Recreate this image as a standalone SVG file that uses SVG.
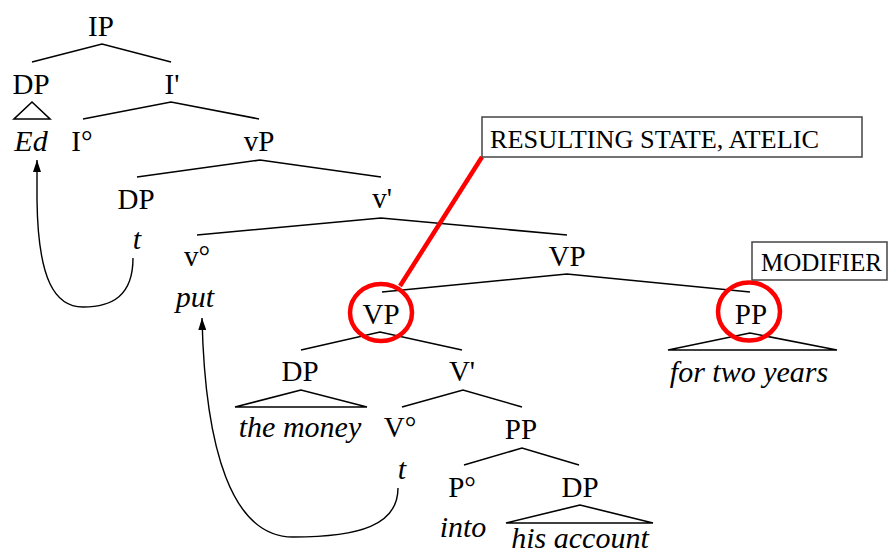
<svg xmlns="http://www.w3.org/2000/svg" width="890" height="554" viewBox="0 0 890 554">
<style>
  text { font-family: "Liberation Serif", "Times New Roman", serif; font-size: 29px; fill: #000; text-anchor: middle; }
  .it { font-style: italic; font-size: 30px; }
  .lbl { font-size: 25px; text-anchor: start; }
  .br { stroke: #000; stroke-width: 1.6; fill: none; }
  .tri { stroke: #000; stroke-width: 1.6; fill: none; stroke-linejoin: miter; }
  .mv { stroke: #000; stroke-width: 1.4; fill: none; }
  .red { stroke: #ff0000; stroke-width: 4.5; fill: none; }
  .box { fill: #fff; stroke: #444; stroke-width: 1.5; }
</style>
<defs>
  <marker id="ah" viewBox="0 0 12 8" refX="12" refY="4" markerWidth="12" markerHeight="8" orient="auto" markerUnits="userSpaceOnUse">
    <path d="M0,0 L12,4 L0,8 Z" fill="#000"/>
  </marker>
</defs>
<rect width="890" height="554" fill="#fff"/>
<g id="connectors">
  <path class="br" d="M32,62 L102,44 L171,62"/>
  <path class="tri" d="M32,102 L14,119 L50,119 Z"/>
  <path class="br" d="M83,119 L171,102 L259,119"/>
  <path class="br" d="M137,177 L260,160 L381,177"/>
  <path class="br" d="M197,235 L381,218 L567,235"/>
  <path class="br" d="M382,292 L567,274 L750,292"/>
  <path class="br" d="M301,350 L380,332 L462,350"/>
  <path class="tri" d="M750,333 L668,350 L837,350 Z"/>
  <path class="tri" d="M301,390 L235,407 L367,407 Z"/>
  <path class="br" d="M402,407 L463,390 L522,407"/>
  <path class="br" d="M464,465 L522,448 L579,465"/>
  <path class="tri" d="M580,505 L506,523 L653,523 Z"/>
  <path class="mv" d="M133,258 C133,296 112,307 83,307 C55,307 38,280 37,200 L37,160" marker-end="url(#ah)"/>
  <path class="mv" d="M398,488 C398,525 360,537 293,537 C232,537 205,450 202,318" marker-end="url(#ah)"/>
  <line class="red" x1="482" y1="157" x2="400" y2="286"/>
</g>
<g id="n-IP"><text x="101" y="36">IP</text></g>
<g id="n-DP1"><text x="31" y="94">DP</text></g>
<g id="n-Ibar"><text x="172" y="94">I'</text></g>
<g id="n-Ed"><text class="it" x="31" y="151">Ed</text></g>
<g id="n-I0"><text x="82" y="151">I°</text></g>
<g id="n-vP"><text x="259" y="151">vP</text></g>
<g id="n-DP2"><text x="136" y="209">DP</text></g>
<g id="n-vbar"><text x="382" y="208">v'</text></g>
<g id="n-t1"><text class="it" x="137" y="249">t</text></g>
<g id="n-v0"><text x="197" y="266">v°</text></g>
<g id="n-VP1"><text x="567" y="266">VP</text></g>
<g id="n-put"><text class="it" x="195" y="307">put</text></g>
<g id="n-VP2"><text x="381" y="324">VP</text><ellipse class="red" cx="381" cy="312.5" rx="31" ry="28.5"/></g>
<g id="n-PP1"><text x="751" y="324">PP</text><ellipse class="red" cx="749" cy="311.5" rx="31" ry="29"/></g>
<g id="n-fortwoyears"><text class="it" x="749" y="382">for two years</text></g>
<g id="n-DP3"><text x="300" y="381">DP</text></g>
<g id="n-Vbar"><text x="462" y="381">V'</text></g>
<g id="n-themoney"><text class="it" x="300" y="437">the money</text></g>
<g id="n-V0"><text x="400" y="437">V°</text></g>
<g id="n-PP2"><text x="521" y="439">PP</text></g>
<g id="n-t2"><text class="it" x="402" y="479">t</text></g>
<g id="n-P0"><text x="462" y="497">P°</text></g>
<g id="n-DP4"><text x="580" y="497">DP</text></g>
<g id="n-into"><text class="it" x="463" y="537">into</text></g>
<g id="n-hisaccount"><text class="it" x="580" y="548">his account</text></g>
<g id="label-resulting">
  <rect class="box" x="482" y="117" width="380" height="40"/>
  <text class="lbl" x="490" y="148" textLength="329" lengthAdjust="spacingAndGlyphs">RESULTING STATE, ATELIC</text>
</g>
<g id="label-modifier">
  <rect class="box" x="752" y="242" width="135" height="38"/>
  <text class="lbl" x="761" y="271">MODIFIER</text>
</g>
</svg>
